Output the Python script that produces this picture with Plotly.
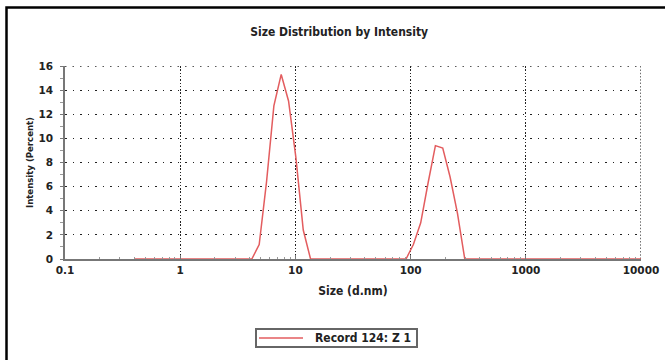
import plotly.graph_objects as go

# Size bins (d.nm)
sizes = [0.4, 0.4632, 0.5365, 0.6213, 0.7195, 0.8332, 0.9649, 1.117, 1.294, 1.499,
         1.736, 2.01, 2.328, 2.696, 3.122, 3.615, 4.187, 4.849, 5.615, 6.503,
         7.531, 8.721, 10.1, 11.7, 13.54, 15.69, 18.17, 21.04, 24.36, 28.21,
         32.67, 37.84, 43.82, 50.75, 58.77, 68.06, 78.82, 91.28, 105.7, 122.4,
         141.8, 164.2, 190.1, 220.2, 255.0, 295.3, 342.0, 396.1, 458.7, 531.2,
         615.1, 712.4, 825.0, 955.4, 1106, 1281, 1484, 1718, 1990, 2305,
         2669, 3091, 3580, 4145, 4801, 5560, 6439, 7456, 8635, 10000]
# Intensity (%)
intensity = [0, 0, 0, 0, 0, 0, 0, 0, 0, 0,
             0, 0, 0, 0, 0, 0, 0, 1.2, 6.4, 12.7,
             15.3, 13.1, 8.4, 2.4, 0, 0, 0, 0, 0, 0,
             0, 0, 0, 0, 0, 0, 0, 0, 1.2, 3.0,
             6.3, 9.4, 9.2, 6.8, 3.8, 0, 0, 0, 0, 0,
             0, 0, 0, 0, 0, 0, 0, 0, 0, 0,
             0, 0, 0, 0, 0, 0, 0, 0, 0, 0]

x_tickvals = [0.1, 1, 10, 100, 1000, 10000]
x_ticktext = ["0.1", "1", "10", "100", "1000", "10000"]
y_tickvals = [0, 2, 4, 6, 8, 10, 12, 14, 16]

series_name = "Record 124: Z 1"
title_text = "Size Distribution by Intensity"
x_title = "Size (d.nm)"
y_title = "Intensity (Percent)"

FONT = "Liberation Sans Narrow, DejaVu Sans Condensed, Roboto, sans-serif"
TICKFONT = "DejaVu Sans, sans-serif"
LINE_COLOR = "#e35d5f"
GRID_COLOR = "#222"

# Plot-area geometry (pixels) -> paper helpers for the legend box
L, R, T, B = 65, 641, 66, 259
def px(xp):
    return (xp - L) / (R - L)
def py(yp):
    return (B - yp) / (B - T)

fig = go.Figure()
fig.add_trace(go.Scatter(
    x=sizes, y=intensity, mode="lines", name=series_name,
    line=dict(color=LINE_COLOR, width=1.5), cliponaxis=False,
    showlegend=False,
))

shapes = [
    # outer frame (only top and left edges fall within the picture)
    dict(type="rect", xref="paper", yref="paper",
         x0=px(6.5), x1=1.1, y0=-0.7, y1=py(7.5),
         line=dict(color="black", width=2.5), layer="below"),
    # edge gridlines at the top of the y range and right of the x range
    dict(type="line", xref="x", yref="y", x0=x_tickvals[0], x1=x_tickvals[-1],
         y0=y_tickvals[-1], y1=y_tickvals[-1],
         line=dict(color=GRID_COLOR, width=1.3, dash="1.5px,6px"), layer="below"),
    dict(type="line", xref="x", yref="y", x0=x_tickvals[-1], x1=x_tickvals[-1],
         y0=y_tickvals[0], y1=y_tickvals[-1],
         line=dict(color=GRID_COLOR, width=1.3, dash="1.5px,1.8px"), layer="below"),
    # legend box
    dict(type="rect", xref="paper", yref="paper",
         x0=px(256), x1=px(417), y0=py(347), y1=py(329),
         line=dict(color="#666", width=2), fillcolor="white"),
    dict(type="line", xref="paper", yref="paper",
         x0=px(259), x1=px(303), y0=py(338), y1=py(338),
         line=dict(color=LINE_COLOR, width=1.5)),
]

annotations = [
    dict(text=series_name, xref="paper", yref="paper",
         x=px(413), y=py(338), xanchor="right", yanchor="middle",
         showarrow=False,
         font=dict(family=FONT, size=12, color="#222", weight="bold")),
]

fig.update_layout(
    width=665, height=360,
    margin=dict(l=L, r=665 - R, t=T, b=360 - B, autoexpand=False),
    paper_bgcolor="white", plot_bgcolor="white",
    title=dict(text=title_text, x=0.476, xref="paper", xanchor="center",
               y=1 - 32 / 360, yref="container", yanchor="middle",
               font=dict(family=FONT, size=12, color="#222", weight="bold")),
    showlegend=False,
    xaxis=dict(
        type="log", range=[-1, 4],
        tickvals=x_tickvals, ticktext=x_ticktext,
        showgrid=True, gridcolor=GRID_COLOR, griddash="1.5px,1.8px", gridwidth=1.3,
        showline=True, linecolor="#777", linewidth=2,
        ticks="inside", ticklen=4, tickcolor="#777", tickwidth=1,
        minor=dict(ticks="inside", ticklen=2, tickcolor="#999", showgrid=False,
                   tickvals=[v * m for v in [0.1, 1, 10, 100, 1000] for m in range(2, 10)]),
        tickfont=dict(family=TICKFONT, size=10.5, color="#222", weight="bold"),
        title=dict(text=x_title, standoff=12,
                   font=dict(family=FONT, size=12, color="#222", weight="bold")),
        zeroline=False,
    ),
    yaxis=dict(
        range=[0, 16], tickvals=y_tickvals,
        showgrid=True, gridcolor=GRID_COLOR, griddash="1.5px,6px", gridwidth=1.3,
        showline=True, linecolor="#777", linewidth=1.5,
        ticks="outside", ticklen=3, tickcolor="#777", tickwidth=1,
        minor=dict(dtick=1, ticks="outside", ticklen=3, tickcolor="#999", showgrid=False),
        ticklabelstandoff=5,
        tickfont=dict(family=TICKFONT, size=10.5, color="#222", weight="bold"),
        title=dict(text=y_title, standoff=3,
                   font=dict(family=FONT, size=9.5, color="#222", weight="bold")),
        zeroline=False,
    ),
    shapes=shapes,
    annotations=annotations,
)

fig.write_html("out.html")
